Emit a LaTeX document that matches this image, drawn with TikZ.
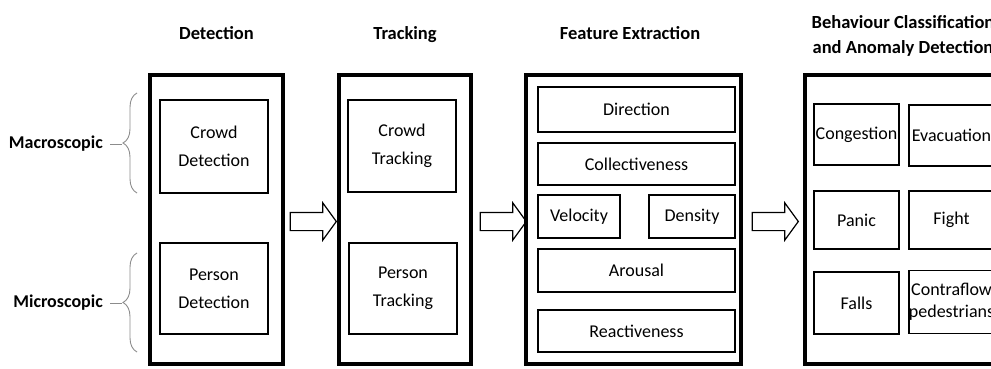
\documentclass[tikz,border=0pt]{standalone}
\usepackage{fontspec}
\setmainfont{Carlito}
\usetikzlibrary{shapes.arrows,decorations.pathreplacing}
\definecolor{bracegray}{HTML}{8C8C8C}

\begin{document}
\begin{tikzpicture}[
    x=1pt, y=-1pt,
    title/.style={font=\fontsize{18.5}{25}\selectfont\bfseries, align=center},
    level/.style={font=\fontsize{18}{21}\selectfont\bfseries, anchor=east, inner sep=2pt},
    stage/.style={draw, line width=4pt, inner sep=0pt},
    item/.style={draw, line width=1.3pt, inner sep=0pt, align=center,
                 font=\fontsize{18}{28}\selectfont},
    flow/.style={draw, line width=1.2pt, single arrow, inner sep=0pt,
                 text height=8.5pt, text depth=8.5pt, text width=0pt,
                 minimum height=46pt, minimum width=0pt,
                 single arrow head extend=9.5pt, single arrow tip angle=108},
    curly/.style={draw=bracegray, line width=0.9pt,
                  decorate, decoration={brace, amplitude=14pt}},
    tick/.style={-, draw=bracegray, line width=0.9pt, shorten <=5pt}
]
\useasboundingbox (0,0) rectangle (991,369);
\clip (0,0) rectangle (991,369);
\fill[white] (0,0) rectangle (991,369);

% --- stage titles ---
\node[title, anchor=base] (tdet)  at (216.5,40) {Detection};
\node[title, anchor=base] (ttrk)  at (405,40)   {Tracking};
\node[title, anchor=base] (tfeat) at (630,40)   {Feature Extraction};
\node[title] (tbeh) at (903,36) {Behaviour Classification\\and Anomaly Detection};

% --- stage frames ---
\node[stage, minimum width=133pt, minimum height=289pt] (det)  at (216.5,219.5) {};
\node[stage, minimum width=132pt, minimum height=289pt] (trk)  at (405,219.5)   {};
\node[stage, minimum width=215pt, minimum height=289pt] (feat) at (633.5,219.5) {};
\node[stage, minimum width=198pt, minimum height=289pt] (beh)  at (904,219.5)   {};

% --- detection / tracking ---
\node[item, minimum width=108pt, minimum height=93pt] (cdet) at (214,146.5) {Crowd\\Detection};
\node[item, minimum width=108pt, minimum height=91pt] (pdet) at (214,288.5) {Person\\Detection};
\node[item, minimum width=108pt, minimum height=92pt] (ctrk) at (402,146)   {Crowd\\Tracking};
\node[item, minimum width=108pt, minimum height=91pt] (ptrk) at (403,288.5) {Person\\Tracking};

% --- features ---
\node[item, minimum width=197pt, minimum height=45pt] (dir)   at (636.5,109.5) {Direction};
\node[item, minimum width=197pt, minimum height=42pt] (coll)  at (636.5,164)   {Collectiveness};
\node[item, minimum width=82pt,  minimum height=43pt] (vel)   at (579,216.5)   {Velocity};
\node[item, minimum width=86pt,  minimum height=43pt] (dens)  at (692,216.5)   {Density};
\node[item, minimum width=197pt, minimum height=43pt] (arou)  at (636.5,270.5) {Arousal};
\node[item, minimum width=197pt, minimum height=42pt] (react) at (636.5,331)   {Reactiveness};

% --- behaviours ---
\node[item, minimum width=85pt, minimum height=61pt] (cong)   at (856.5,134.5) {Congestion};
\node[item, minimum width=85pt, minimum height=61pt] (evac)   at (951.5,135.5) {Evacuation};
\node[item, minimum width=85pt, minimum height=58pt] (panic)  at (856.5,220)   {Panic};
\node[item, minimum width=85pt, minimum height=58pt] (fight)  at (951.5,220)   {Fight};
\node[item, minimum width=85pt, minimum height=62pt] (falls)  at (856.5,303)   {Falls};
\node[item, minimum width=85pt, minimum height=63pt, font=\fontsize{18}{22}\selectfont]
     (contra) at (951.5,302) {Contraflow\\pedestrians};

% --- block arrows ---
\node[flow] (a1) at (310,221.5) {};
\node[flow] (a2) at (500,221.5) {};
\node[flow] (a3) at (772,221.5) {};

% --- scale labels with braces ---
\node[level] (macro) at (105,144) {Macroscopic};
\node[level] (micro) at (105,303) {Microscopic};
\coordinate (mactop) at (137,93);
\coordinate (macbot) at (137,193);
\coordinate (mictop) at (137,253);
\coordinate (micbot) at (137,352);
\coordinate (mactip) at (122,144);
\coordinate (mictip) at (122,303);
\draw[curly] (macbot) -- (mactop);
\draw[curly] (micbot) -- (mictop);
\draw[tick] (macro.east) -- (mactip);
\draw[tick] (micro.east) -- (mictip);

\end{tikzpicture}
\end{document}
